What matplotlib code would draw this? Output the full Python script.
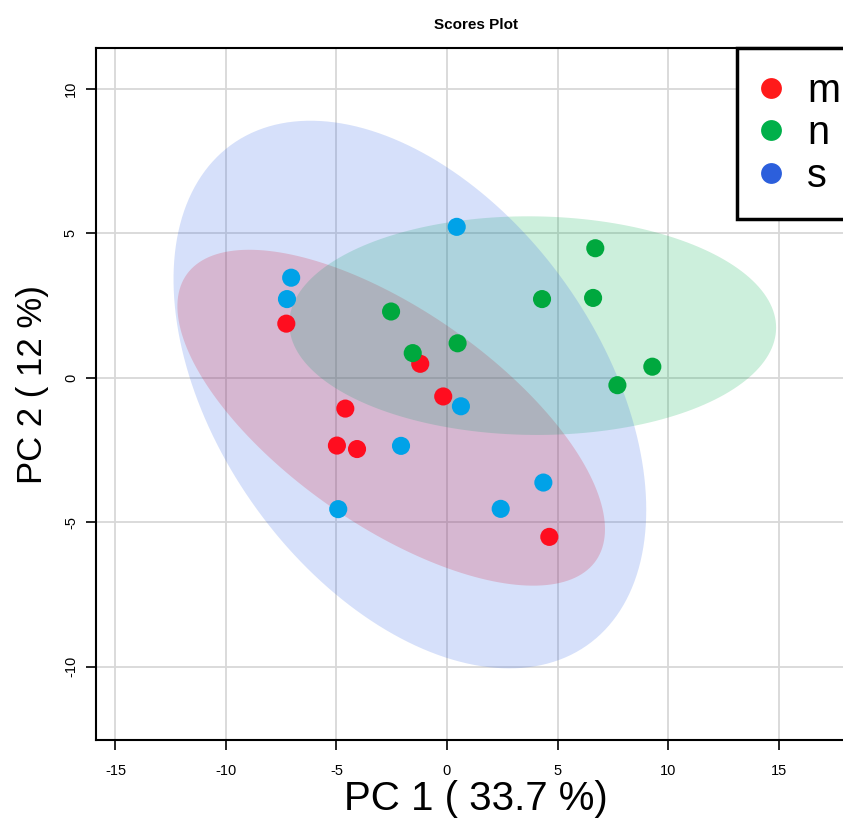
import numpy as np
import matplotlib
matplotlib.use("Agg")
from matplotlib import pyplot as plt
from matplotlib.lines import Line2D

plt.rcParams['font.family'] = ['Liberation Sans', 'DejaVu Sans']
plt.rcParams['axes.unicode_minus'] = False

# scores
m_x = [-7.27, -1.21, -0.17, -4.60, -4.98, -4.07, 4.63]
m_y = [1.87, 0.48, -0.65, -1.07, -2.35, -2.47, -5.51]

n_x = [-2.53, -1.55, 0.48, 4.30, 6.71, 6.61, 7.71, 9.29]
n_y = [2.29, 0.85, 1.19, 2.72, 4.48, 2.76, -0.26, 0.38]

s_x = [0.44, -7.05, -7.24, 0.63, -2.08, -4.92, 2.43, 4.36]
s_y = [5.22, 3.46, 2.72, -0.99, -2.36, -4.55, -4.54, -3.63]

groups = ['m', 'n', 's']
point_colors = ['#ff0d1f', '#00a83e', '#00a2e8']
legend_colors = ['#ff1a1a', '#00b04a', '#2c5fdc']
ellipse_colors = ['#ff0000', '#00b050', '#3366e6']

xticks = [-15, -10, -5, 0, 5, 10, 15]
yticks = [-10, -5, 0, 5, 10]


def conf_ellipse(x, y, level_t=np.sqrt(-2 * np.log(0.05)), n=200):
    # 95% confidence ellipse from the group covariance
    xy = np.vstack([x, y])
    mu = xy.mean(axis=1)
    L = np.linalg.cholesky(np.cov(xy))
    t = np.linspace(0, 2 * np.pi, n)
    circ = np.vstack([np.cos(t), np.sin(t)])
    pts = mu[:, None] + level_t * L @ circ
    return pts[0], pts[1]


fig = plt.figure(figsize=(8.43, 8.23), dpi=100)
ax = fig.add_axes([96 / 843, 83 / 823, 759 / 843, 692 / 823])

ax.set_xlim(-15.88, 18.46)
ax.set_ylim(-12.54, 11.41)
ax.grid(True, color='#d8d8d8', linewidth=1.3, zorder=0)
ax.set_axisbelow(True)

data = [(m_x, m_y), (n_x, n_y), (s_x, s_y)]
for (gx, gy), ec in zip(data, ellipse_colors):
    ex, ey = conf_ellipse(gx, gy)
    ax.fill(ex, ey, color=ec, alpha=0.2, linewidth=0, zorder=1)

for (gx, gy), pc in zip(data, point_colors):
    ax.scatter(gx, gy, s=170, color=pc, edgecolors='none', zorder=3)

ax.set_xticks(xticks)
ax.set_yticks(yticks)
ax.tick_params(axis='both', direction='out', length=7, width=1.2, labelsize=10.5)
ax.tick_params(axis='x', pad=10)
ax.tick_params(axis='y', pad=6)
for lab in ax.get_yticklabels():
    lab.set_rotation(90)
    lab.set_va('center')

for sp in ax.spines.values():
    sp.set_linewidth(1.5)

ax.set_title('Scores Plot', fontsize=11, fontweight='bold', pad=14)
ax.set_xlabel('PC 1 ( 33.7 %)', fontsize=29, labelpad=2)
ax.set_ylabel('PC 2 ( 12 %)', fontsize=25)
ax.yaxis.set_label_coords(-0.062, 0.513)

handles = [Line2D([], [], marker='o', linestyle='none', markersize=15,
                  markerfacecolor=c, markeredgecolor='none') for c in legend_colors]
leg = ax.legend(handles, groups, loc='upper left', bbox_to_anchor=(0.8445, 1.0),
                borderaxespad=0, fontsize=28.5, frameon=True, fancybox=False,
                handlelength=0.53, handletextpad=0.64, labelspacing=0.115,
                borderpad=0.6)
leg.get_frame().set_edgecolor('black')
leg.get_frame().set_linewidth(2.5)
leg.get_frame().set_alpha(1)

fig.savefig('out.png', dpi=100)
